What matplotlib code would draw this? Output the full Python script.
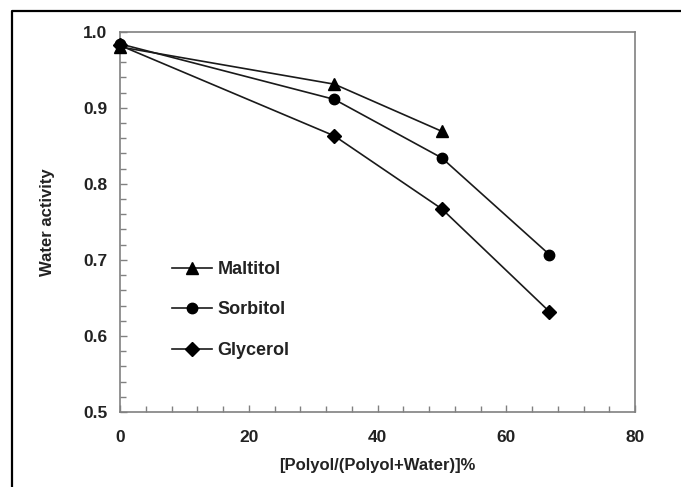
import matplotlib
matplotlib.use("Agg")
import matplotlib.pyplot as plt
from matplotlib.lines import Line2D
from matplotlib.ticker import MultipleLocator

plt.rcParams['font.family'] = ['Liberation Sans', 'DejaVu Sans']

conc_maltitol = [0, 33.3, 50]
aw_maltitol = [0.980, 0.931, 0.869]
conc_sorbitol = [0, 33.3, 50, 66.7]
aw_sorbitol = [0.984, 0.911, 0.834, 0.707]
conc_glycerol = [0, 33.3, 50, 66.7]
aw_glycerol = [0.982, 0.863, 0.767, 0.632]

fig = plt.figure(figsize=(6.81, 4.87), dpi=100)
ax = fig.add_axes([120/681, 75/487, 515/681, 380.3/487])

lc = '#1a1a1a'
ax.plot(conc_maltitol, aw_maltitol, '-', color=lc, lw=1.2, marker='^', ms=9, mfc='black', mec='black', label='Maltitol', clip_on=False, zorder=3)
ax.plot(conc_sorbitol, aw_sorbitol, '-', color=lc, lw=1.2, marker='o', ms=7.5, mfc='black', mec='black', label='Sorbitol', clip_on=False, zorder=3)
ax.plot(conc_glycerol, aw_glycerol, '-', color=lc, lw=1.2, marker='D', ms=7, mfc='black', mec='black', label='Glycerol', clip_on=False, zorder=3)

ax.set_xlim(0, 80)
ax.set_ylim(0.5, 1.0)
ax.xaxis.set_major_locator(MultipleLocator(20))
ax.xaxis.set_minor_locator(MultipleLocator(4))
ax.yaxis.set_major_locator(MultipleLocator(0.1))
ax.yaxis.set_minor_locator(MultipleLocator(0.02))
ax.yaxis.set_major_formatter(matplotlib.ticker.FormatStrFormatter('%.1f'))

sc = '#808080'
for s in ax.spines.values():
    s.set_color(sc)
    s.set_linewidth(1.2)
ax.tick_params(which='both', direction='in', color=sc, width=1.0)
ax.tick_params(which='major', length=5, labelsize=12.5, pad=9)
ax.tick_params(which='minor', length=4)
ax.tick_params(axis='x', which='major', pad=13)
for lab in ax.get_xticklabels() + ax.get_yticklabels():
    lab.set_fontweight('bold')
    lab.set_color('#222222')

ax.set_xlabel('[Polyol/(Polyol+Water)]%', fontsize=12, fontweight='bold', color='#222222', labelpad=9)
ax.set_ylabel('Water activity', fontsize=12, fontweight='bold', color='#222222', labelpad=20)

leg = ax.legend(loc='upper left', bbox_to_anchor=(0.07, 0.44), frameon=False,
                fontsize=13, handlelength=2.2, labelspacing=1.3, handletextpad=0.3)
for t in leg.get_texts():
    t.set_fontweight('bold')
    t.set_color('#222222')

# outer frame
fig.add_artist(Line2D([12/681, 12/681, 1.0], [0.0, 1 - 11/487, 1 - 11/487],
                      transform=fig.transFigure, color='black', lw=1.6))

fig.savefig('out.png', dpi=100)
